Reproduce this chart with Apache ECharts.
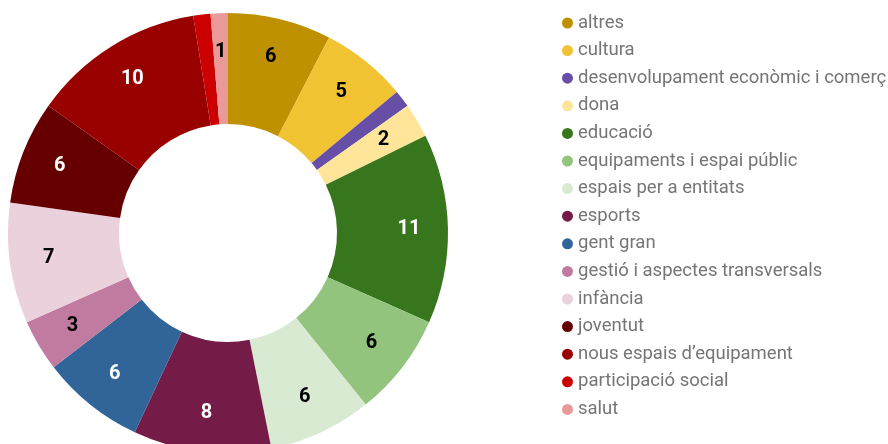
<!DOCTYPE html>
<html>
<head>
<meta charset="utf-8">
<script src="https://cdn.jsdelivr.net/npm/echarts@6/dist/echarts.min.js"></script>
<style>
  html, body { margin: 0; padding: 0; background: #ffffff; }
  #chart { width: 888px; height: 444px; }
</style>
</head>
<body>
<div id="chart"></div>
<script>
// Categories of projects and their counts
const categories = [
  'altres', 'cultura', 'desenvolupament econòmic i comerç', 'dona', 'educació',
  'equipaments i espai públic', 'espais per a entitats', 'esports', 'gent gran',
  'gestió i aspectes transversals', 'infància', 'joventut',
  'nous espais d\u2019equipament', 'participació social', 'salut'
];
const counts = [6, 5, 1, 2, 11, 6, 6, 8, 6, 3, 7, 6, 10, 1, 1];
const sliceColors = [
  '#bf9000', '#f1c232', '#674ea7', '#ffe599', '#38761d',
  '#93c47d', '#d9ead3', '#741b47', '#31659a',
  '#c27ba0', '#ead1dc', '#660000',
  '#990000', '#cc0000', '#ea9999'
];
const labelColors = [
  '#000', '#000', '#000', '#000', '#fff',
  '#000', '#000', '#fff', '#fff',
  '#000', '#000', '#fff',
  '#fff', '#fff', '#000'
];
// slices too thin to carry a number
const hiddenLabels = ['desenvolupament econòmic i comerç', 'participació social'];

const ringData = categories.map((name, i) => ({
  name: name,
  value: counts[i],
  itemStyle: { color: sliceColors[i] }
}));

const labelData = categories.map((name, i) => ({
  name: name,
  value: counts[i],
  itemStyle: { color: 'rgba(0,0,0,0)' },
  label: {
    show: hiddenLabels.indexOf(name) < 0,
    color: labelColors[i]
  }
}));

const chart = echarts.init(document.getElementById('chart'), null, { renderer: 'canvas' });
chart.setOption({
  animation: false,
  backgroundColor: '#ffffff',
  color: sliceColors,
  legend: {
    orient: 'vertical',
    left: 557,
    top: 8,
    icon: 'circle',
    itemWidth: 11,
    itemHeight: 11,
    itemGap: 7.6,
    textStyle: {
      fontFamily: 'Roboto',
      fontSize: 18.5,
      lineHeight: 20,
      color: '#757575'
    },
    data: categories
  },
  series: [
    {
      type: 'pie',
      center: [228, 233],
      radius: [109, 220],
      startAngle: 90,
      clockwise: true,
      silent: true,
      label: { show: false },
      labelLine: { show: false },
      data: ringData
    },
    {
      // transparent ring that only carries the value labels
      type: 'pie',
      center: [228, 233],
      radius: [136, 220],
      startAngle: 90,
      clockwise: true,
      silent: true,
      legendHoverLink: false,
      label: {
        show: true,
        position: 'inside',
        formatter: '{c}',
        fontFamily: 'Roboto',
        fontWeight: 'bold',
        fontSize: 20
      },
      labelLine: { show: false },
      data: labelData
    }
  ]
});
</script>
</body>
</html>
